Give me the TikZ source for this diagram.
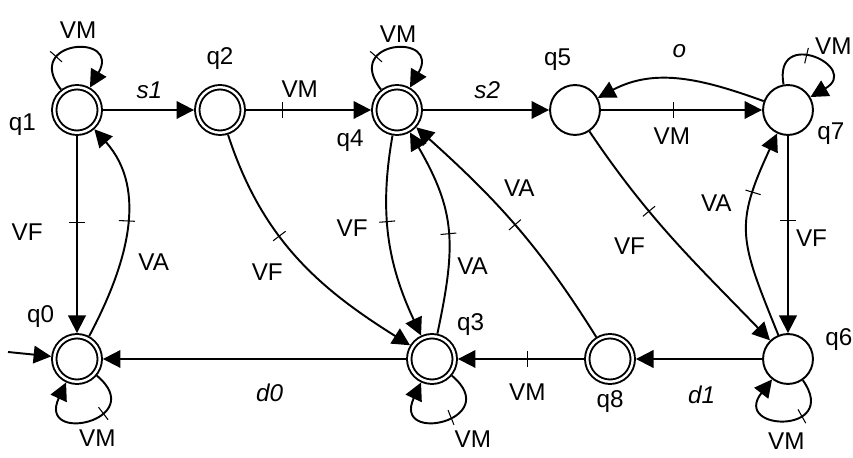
\documentclass[tikz,border=0pt]{standalone}
\usepackage{fontspec}
\setmainfont{Liberation Sans}
\usepackage{tikz}
\usetikzlibrary{arrows.meta, decorations.markings}

\begin{document}
\begin{tikzpicture}[
        font=\fontsize{13.8}{16}\selectfont,
        state/.style={circle, draw, line width=1.1pt, minimum size=28.4pt, inner sep=0pt},
        accept/.style={state, double, double distance=1.4pt, minimum size=25.9pt, outer sep=1.8pt},
        arr/.style={-{Triangle[length=10pt, width=10pt]}, line width=1.1pt},
        lab/.style={inner sep=0pt},
        ev/.style={lab, font=\fontsize{13.8}{16}\selectfont\itshape},
        barred/.style={postaction={decorate, decoration={markings,
            mark=at position #1 with {\draw[-, line width=0.6pt] (0,-4.5pt) -- (0,4.5pt);}}}},
        every label/.style={inner sep=0pt}
    ]
        \useasboundingbox (0,0) rectangle (17.06,9.16);

        % states
        \node[accept, label={[label distance=0.3cm]185:q1}] (q1) at (1.54,6.96) {};
        \node[accept, label={[label distance=0.28cm]90:q2}] (q2) at (4.40,6.96) {};
        \node[accept, label={[label distance=0.25cm]211:q4}] (q4) at (7.94,6.96) {};
        \node[state, label={[label distance=0.27cm]95:q5}] (q5) at (11.50,6.96) {};
        \node[state, label={[label distance=0.11cm]337:q7}] (q7) at (15.76,6.96) {};
        \node[accept, label={[label distance=0.25cm]126:q0}] (q0) at (1.54,1.98) {};
        \node[accept, label={[label distance=0.16cm]43:q3}] (q3) at (8.64,1.98) {};
        \node[accept, label={[label distance=0.11cm]270:q8}] (q8) at (12.20,1.98) {};
        \node[state, label={[label distance=0.24cm]13:q6}] (q6) at (15.76,1.98) {};
        \coordinate (init) at (0.16,2.12);

        % top row
        \draw[arr, barred=0.33] (q1) to[out=128, in=60, looseness=5.6] node[lab, above=5.6pt, xshift=3pt] {VM} (q1);
        \draw[arr] (q1) -- node[ev, pos=0.51, above=5.6pt] {s1} (q2);
        \draw[arr, barred=0.29] (q2) -- node[lab, pos=0.43, above=6.8pt] {VM} (q4);
        \draw[arr, barred=0.33] (q4) to[out=128, in=60, looseness=5.6] node[lab, above=3.4pt, xshift=3pt] {VM} (q4);
        \draw[arr] (q4) -- node[ev, pos=0.51, above=5.6pt] {s2} (q5);
        \draw[arr, barred=0.45] (q5) -- node[lab, pos=0.44, below=9.6pt] {VM} (q7);
        \draw[arr] (q7) to[out=160, in=28] node[ev, above=12pt] {o} (q5);
        \draw[arr, barred=0.44] (q7) to[out=100, in=30, looseness=5.1]
            node[lab, anchor=south west, shift={(1pt,1pt)}] {VM} (q7);

        % vertical and diagonal edges
        \draw[arr, barred=0.44] (q1) -- node[lab, pos=0.49, left=19pt] {VF} (q0);
        \draw[arr, barred=0.55] (q0) to[out=62, in=-48] node[lab, pos=0.34, right=10pt] {VA} (q1);
        \draw[arr, barred=0.4] (q2) to[out=-72, in=148] node[lab, pos=0.58, left=16pt] {VF} (q3);
        \draw[arr, barred=0.42] (q4) to[out=-100, in=115] node[lab, pos=0.45, left=11pt] {VF} (q3);
        \draw[arr, barred=0.48] (q3) to[out=78, in=-60, looseness=1.15] node[lab, pos=0.3, right=4.5pt] {VA} (q4);
        \draw[arr, barred=0.5] (q8) to[out=122, in=-42]
            node[lab, pos=0.6, anchor=south west, shift={(3pt,5pt)}] {VA} (q4);
        \draw[arr, barred=0.36] (q5) to[out=-56, in=134] node[lab, pos=0.53, left=19pt] {VF} (q6);
        \draw[arr, barred=0.43] (q7) -- node[lab, pos=0.52, right=4pt] {VF} (q6);
        \draw[arr, barred=0.7] (q6) to[out=112, in=-115, looseness=1.3] node[lab, pos=0.68, left=10pt] {VA} (q7);

        % bottom row
        \draw[arr] (init) -- (q0);
        \draw[arr, barred=0.38] (q0) to[out=-40, in=-115, looseness=5.6]
            node[lab, below=5.5pt, xshift=4pt] {VM} (q0);
        \draw[arr] (q3) -- node[ev, pos=0.45, below=13.6pt] {d0} (q0);
        \draw[arr, barred=0.45] (q3) to[out=-40, in=-115, looseness=5.6]
            node[lab, pos=0.4, anchor=north west, shift={(-1pt,-8pt)}] {VM} (q3);
        \draw[arr, barred=0.45] (q8) -- node[lab, pos=0.45, below=13.6pt] {VM} (q3);
        \draw[arr] (q6) -- node[ev, pos=0.48, below=14.7pt] {d1} (q8);
        \draw[arr, barred=0.36] (q6) to[out=-55, in=-128, looseness=5.5] node[lab, below=7pt] {VM} (q6);
    \end{tikzpicture}
\end{document}
